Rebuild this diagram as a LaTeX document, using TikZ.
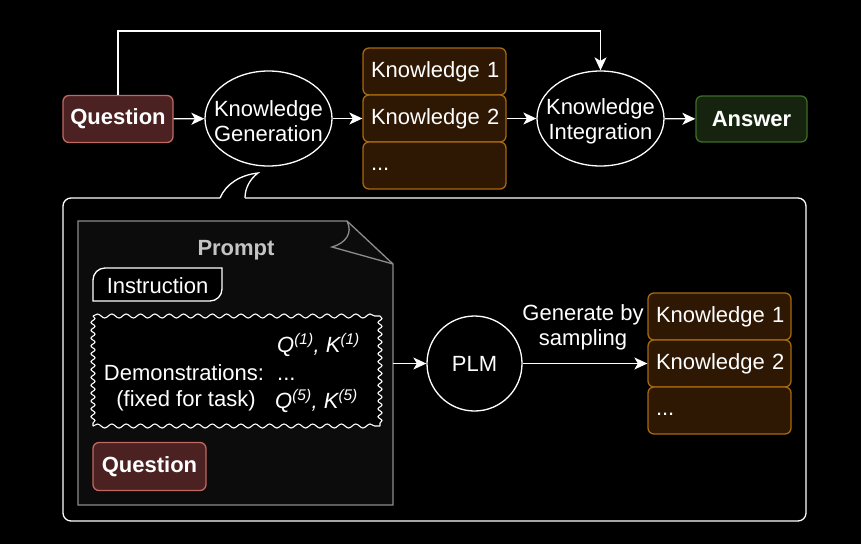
\documentclass[tikz,border=0pt]{standalone}
\usepackage{fontspec}
\setmainfont{Liberation Sans}
\usetikzlibrary{arrows.meta,shapes.geometric,decorations.pathmorphing}
\definecolor{qfill}{HTML}{4B2121}
\definecolor{qdraw}{HTML}{C06862}
\definecolor{kfill}{HTML}{2F1803}
\definecolor{kdraw}{HTML}{A8680F}
\definecolor{afill}{HTML}{16240F}
\definecolor{adraw}{HTML}{3F6B28}
\definecolor{docfill}{HTML}{0C0C0C}
\definecolor{docdraw}{HTML}{8C8C8C}
\definecolor{doctext}{HTML}{C4C4C4}
\begin{document}
\begin{tikzpicture}[x=1pt,y=-1pt,font=\fontsize{22}{25}\selectfont,
  every node/.style={text=white},
  qbox/.style={rectangle,rounded corners=6pt,fill=qfill,draw=qdraw,line width=1.3pt,
    minimum width=110pt,minimum height=47pt,inner sep=0pt,font=\fontsize{22}{25}\selectfont\bfseries},
  kbox/.style={rectangle,rounded corners=6pt,fill=kfill,draw=kdraw,line width=1.3pt,
    minimum height=47pt,text width=133pt,inner xsep=5pt,inner ysep=0pt,align=left,
    execute at begin node=\vphantom{Kg}\hspace*{3pt}},
  abox/.style={rectangle,rounded corners=6pt,fill=afill,draw=adraw,line width=1.3pt,
    minimum width=111pt,minimum height=46pt,inner sep=0pt,font=\fontsize{22}{25}\selectfont\bfseries},
  ell/.style={ellipse,draw=white,line width=1.3pt,minimum width=127pt,minimum height=95pt,
    inner sep=0pt},
  ltxt/.style={align=center,text=white,yshift=-2.5pt},
  arr/.style={draw=white,line width=1.3pt,-{Stealth[length=13pt,width=12pt,inset=3.5pt]}},
  wline/.style={draw=white,line width=1.3pt}]
% background
\fill[black] (0,0) rectangle (861,544);
\useasboundingbox (0,0) rectangle (861,544);

% ---- top row ----
\node[qbox] (qtop) at (118,119) {Question};
\node[ell,label={[ltxt]center:Knowledge\\Generation}] (kg) at (268.5,118.5) {};
\node[kbox] (k1) at (434.5,71.5) {Knowledge 1};
\node[kbox] (k2) at (434.5,118.5) {Knowledge 2};
\node[kbox] (k3) at (434.5,165.5) {...};
\node[ell,label={[ltxt]center:Knowledge\\Integration}] (ki) at (600.5,118.5) {};
\node[abox] (ans) at (751.5,119) {Answer};

\draw[arr] (qtop) -- (kg);
\draw[arr] (kg) -- (k2);
\draw[arr] (k2) -- (ki);
\draw[arr] (ki) -- (ans);
\coordinate (turn) at (600.5,31);
\draw[arr] (qtop.north) |- (turn) -- (ki.north);

% ---- bottom panel with callout tail ----
\draw[wline,rounded corners=8pt] (245,198) -- (806,198) -- (806,521) -- (63,521) -- (63,198) -- (220,198);
\draw[wline] (220,198) .. controls (226,184) and (240,175) .. (258,173)
  .. controls (250,179) and (245,188) .. (245,198);

% ---- prompt document ----
\draw[draw=docdraw,fill=docfill,line width=1.3pt] (78,221) -- (347,221) -- (393,264) -- (393,505) -- (78,505) -- cycle;
\draw[draw=docdraw,line width=1.3pt] (347,221) .. controls (353,233) and (346,243) .. (332,247) -- (393,264);
\node[text=doctext,font=\fontsize{22}{25}\selectfont\bfseries] (ptitle) at (236,250) {Prompt};

% instruction
\draw[wline,fill=black] (93,301) -- (93,280) arc (180:270:12) -- (222,268) -- (222,289) arc (0:90:12) -- cycle;
\node (instr) at (157.5,285.5) {Instruction};

% demonstrations (wavy box)
\fill[black] (93,316) rectangle (380,426);
\begin{scope}[decoration={snake,segment length=14.35pt,amplitude=2pt}]
\draw[wline,line width=1.1pt,decorate] (93,316) -- (380,316);
\draw[wline,line width=1.1pt,decorate] (93,426) -- (380,426);
\end{scope}
\begin{scope}[decoration={snake,segment length=7.86pt,amplitude=2pt}]
\draw[wline,line width=1.1pt,decorate] (93,316) -- (93,426);
\draw[wline,line width=1.1pt,decorate] (380,316) -- (380,426);
\end{scope}
\node (dlab) at (184,373) {Demonstrations:};
\node (dfix) at (186,401) {(fixed for task)};
\node[anchor=west,inner sep=0pt] (d1) at (277,345) {\itshape Q\textsuperscript{(1)}, K\textsuperscript{(1)}};
\node[anchor=base west,inner sep=0pt] (d2) at (277,380) {...};
\node[anchor=west,inner sep=0pt] (d5) at (275,401) {\itshape Q\textsuperscript{(5)}, K\textsuperscript{(5)}};

% inner question
\node[qbox,minimum width=113pt,minimum height=48pt] (qin) at (149.5,466.5) {Question};

% ---- PLM and generated knowledge ----
\node[circle,draw=white,line width=1.3pt,minimum size=95pt,inner sep=0pt] (plm) at (474.5,363.5) {PLM};
\coordinate (docr) at (393,363.5);
\draw[arr] (docr) -- (plm);
\node[kbox] (b1) at (719.5,316.5) {Knowledge 1};
\node[kbox] (b2) at (719.5,363.5) {Knowledge 2};
\node[kbox] (b3) at (719.5,410.5) {...};
\draw[arr] (plm) -- (b2);
\node[align=center] (glab) at (583,327) {Generate by\\sampling};
\end{tikzpicture}
\end{document}
